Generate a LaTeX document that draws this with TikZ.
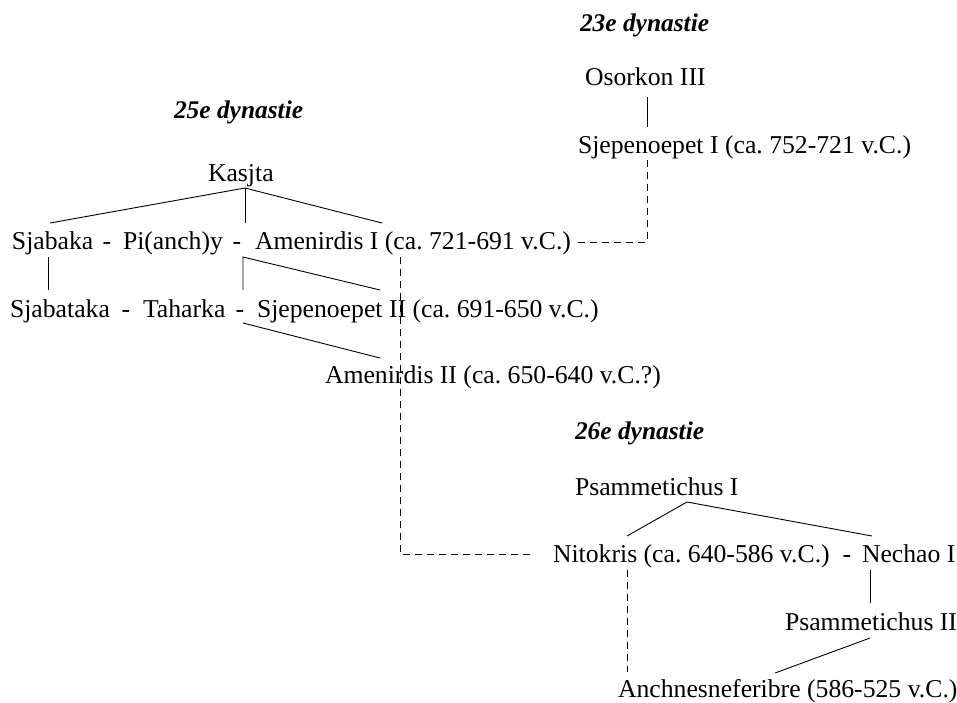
\documentclass[tikz,border=0pt]{standalone}
\usepackage{fontspec}
\setmainfont{Liberation Serif}
\usetikzlibrary{calc}
\frenchspacing
\tikzset{
  nm/.style={anchor=base west, inner sep=0pt, outer sep=0pt, font=\fontsize{25.7}{30}\selectfont},
  dyn/.style={nm, font=\fontsize{25.4}{30}\selectfont\bfseries\itshape},
  sep/.style={anchor=base, inner sep=0pt, outer sep=0pt, font=\fontsize{25.7}{30}\selectfont},
  link/.style={line width=0.9pt},
  dlink/.style={line width=0.9pt, dash pattern=on 7pt off 5pt}
}
\begin{document}
\begin{tikzpicture}[x=1pt,y=-1pt]
\useasboundingbox (0,0) rectangle (957,702);
% titles
\node[dyn] (d23) at (580,31) {23e dynastie};
\node[dyn] (d25) at (174,118) {25e dynastie};
\node[dyn] (d26) at (575,439) {26e dynastie};
% 23e dynastie
\node[nm] (osorkon) at (585,85) {Osorkon III};
\node[nm] (sjep1) at (578,153) {Sjepenoepet I (ca. 752-721 v.C.)};
% 25e dynastie
\node[nm] (kasjta) at (208,181) {Kasjta};
\node[nm] (sjabaka) at (12,249) {Sjabaka};
\node[sep] (dash1) at (107,249) {-};
\node[nm] (pianchy) at (123,249) {Pi(anch)y};
\node[sep] (dash2) at (237,249) {-};
\node[nm] (amen1) at (255,249) {Amenirdis I (ca. 721-691 v.C.)};
\node[nm] (sjabataka) at (10,317) {Sjabataka};
\node[sep] (dash3) at (126,317) {-};
\node[nm] (taharka) at (143,317) {Taharka};
\node[sep] (dash4) at (240,317) {-};
\node[nm] (sjep2) at (257,317) {Sjepenoepet II (ca. 691-650 v.C.)};
\node[nm] (amen2) at (325,383) {Amenirdis II (ca. 650-640 v.C.?)};
% 26e dynastie
\node[nm] (psam1) at (575,495) {Psammetichus I};
\node[nm] (nitokris) at (553,562) {Nitokris (ca. 640-586 v.C.)};
\node[sep] (dash5) at (847,562) {-};
\node[nm] (nechao) at (862,562) {Nechao I};
\node[nm] (psam2) at (785,630) {Psammetichus II};
\node[nm] (anch) at (618,697) {Anchnesneferibre (586-525 v.C.)};
% connectors
\draw[link] ($(osorkon.base west)+(62,12)$) -- ($(sjep1.base west)+(69,-26)$);
\draw[dlink] ($(sjep1.base west)+(69,7)$) |- ($(amen1.base west)+(323,-7)$);
\draw[link] ($(kasjta.base west)+(37,7)$) -- ($(sjabaka.base west)+(38,-26)$);
\draw[link] ($(kasjta.base west)+(37,7)$) -- ($(dash2.base)+(8,-26)$);
\draw[link] ($(kasjta.base west)+(37,7)$) -- ($(amen1.base west)+(127,-26)$);
\draw[link] ($(sjabaka.base west)+(36,8)$) -- ($(sjabataka.base west)+(38,-27)$);
\draw[link] ($(dash4.base)+(3,-27)$) -- ($(dash2.base)+(6,8)$) -- ($(sjep2.base west)+(123,-27)$);
\draw[link] ($(dash4.base)+(3,6)$) -- ($(amen2.base west)+(55,-25)$);
\draw[dlink] ($(amen1.base west)+(145,8)$) |- ($(nitokris.base west)+(-18,-8)$);
\draw[link] ($(nitokris.base west)+(74,-26)$) -- ($(psam1.base west)+(112,7)$) -- ($(nechao.base west)+(10,-26)$);
\draw[link] ($(nechao.base west)+(8,8)$) -- ($(psam2.base west)+(85,-27)$);
\draw[link] ($(psam2.base west)+(85,8)$) -- ($(anch.base west)+(157,-24)$);
\draw[dlink] ($(nitokris.base west)+(74,8)$) -- ($(anch.base west)+(9,-25)$);
\end{tikzpicture}
\end{document}
